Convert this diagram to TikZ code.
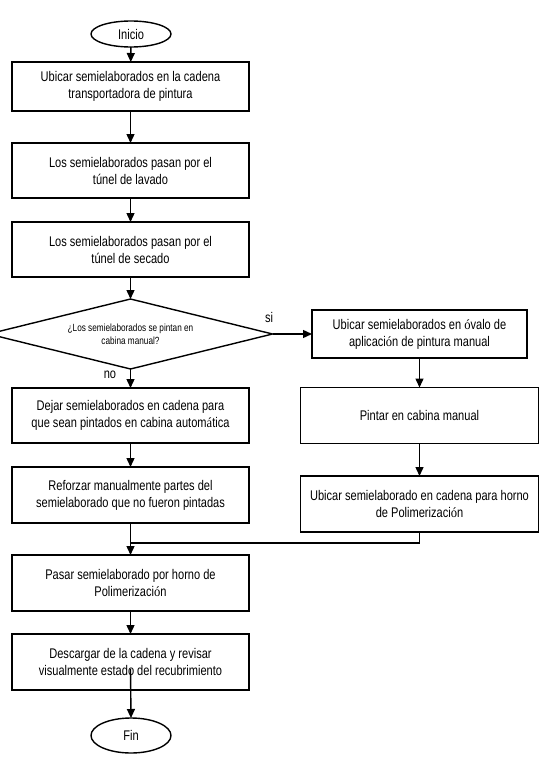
\documentclass[tikz,border=0pt]{standalone}
\usepackage{fontspec}
\setmainfont[FakeStretch=0.79]{Liberation Sans}
\newfontfamily\accfont[FakeStretch=0.9]{Liberation Serif}
\newcommand{\accx}[1]{{\accfont #1}}
\usetikzlibrary{shapes.geometric,arrows.meta}
\begin{document}
\begin{tikzpicture}[x=1bp,y=-1bp,
  every node/.style={inner sep=0pt, outer sep=0pt},
  mainfont/.style={font=\fontsize{14bp}{17bp}\selectfont},
  proc/.style={draw, line width=1.4bp, rectangle, align=center, mainfont},
  lbox/.style={proc, minimum width=237bp},
  term/.style={draw, line width=1.4bp, ellipse, mainfont, minimum width=80bp},
  dec/.style={draw, line width=1.4bp, diamond, shape aspect=4, align=center,
    minimum width=284bp, minimum height=70bp, font=\fontsize{10.4bp}{13bp}\selectfont},
  flow/.style={line width=1.4bp, -{Triangle[length=9bp,width=8bp]}},
  plain/.style={line width=1.4bp},
  lbl/.style={mainfont}
]
\useasboundingbox (0,0) rectangle (552,766);
\node[term, minimum height=26bp] (ini) at (131,34) {Inicio};
\node[lbox, minimum height=49bp] (b1) at (130.5,86.5) {Ubicar semielaborados en la cadena\\transportadora de pintura};
\node[lbox, minimum height=55bp] (b2) at (130.5,170.5) {Los semielaborados pasan por el\\túnel de lavado};
\node[lbox, minimum height=55bp] (b3) at (130.5,249.5) {Los semielaborados pasan por el\\túnel de secado};
\node[dec] (dec) at (130.5,334) {¿Los semielaborados se pintan en\\cabina manual?};
\node[lbox, minimum height=55bp] (l1) at (130.5,415.5) {Dejar semielaborados en cadena para\\que sean pintados en cabina autom\accx{á}tica};
\node[lbox, minimum height=56bp] (l2) at (130.5,495) {Reforzar manualmente partes del\\semielaborado que no fueron pintadas};
\node[lbox, minimum height=56bp] (l3) at (130.5,583) {Pasar semielaborado por horno de\\Polimerizaci\accx{ó}n};
\node[lbox, minimum height=56bp] (l4) at (130.5,662) {Descargar de la cadena y revisar\\visualmente estado del recubrimiento};
\node[term, minimum height=35bp] (fin) at (131,735.5) {Fin};
\node[proc, minimum width=215bp, minimum height=48bp] (r1) at (419.5,334) {Ubicar semielaborados en \accx{ó}valo de\\aplicaci\accx{ó}n de pintura manual};
\node[proc, minimum width=238bp, minimum height=56bp] (r2) at (419.5,415.5) {Pintar en cabina manual};
\node[proc, minimum width=238bp, minimum height=56bp] (r3) at (419.5,504) {Ubicar semielaborado en cadena para horno\\de Polimerizaci\accx{ó}n};
\node[lbl] (si) at (269,317) {si};
\node[lbl] (no) at (110,375) {no};
\coordinate (jn) at (130.5,543);
\coordinate (l4s) at (130.5,669);
\draw[flow] (ini) -- (b1);
\draw[flow] (b1) -- (b2);
\draw[flow] (b2) -- (b3);
\draw[flow] (b3) -- (dec.north);
\draw[flow] (dec.east) -- (r1.west);
\draw[flow] (dec.south) -- (l1.north);
\draw[flow] (r1) -- (r2);
\draw[flow] (r2) -- (r3);
\draw[flow] (l1) -- (l2);
\draw[flow] (l2) -- (l3);
\draw[plain] (r3.south) |- (jn);
\draw[flow] (l3) -- (l4);
\draw[flow] (l4s) -- (fin.north);
\end{tikzpicture}
\end{document}
